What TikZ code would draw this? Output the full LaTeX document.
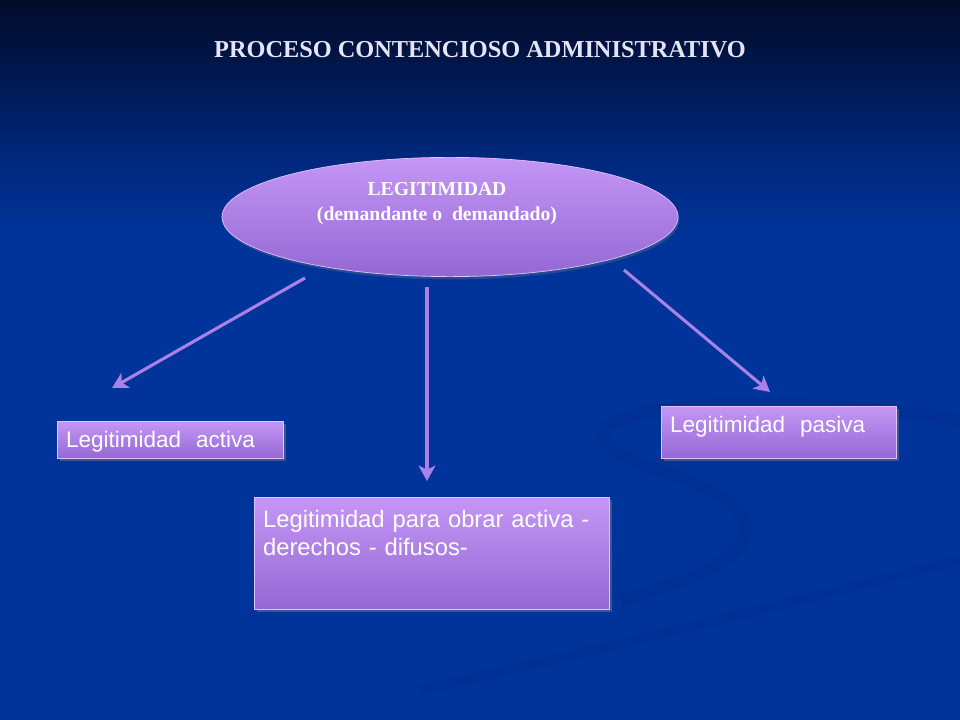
\documentclass[tikz,border=0pt]{standalone}
\usepackage{fontspec}
\setmainfont{Liberation Serif}
\newfontfamily\boxfont{Liberation Sans}
\usetikzlibrary{shapes.geometric,shadows,arrows.meta}

\definecolor{bgtop}{RGB}{2,10,40}
\definecolor{bgmid}{RGB}{0,40,125}
\definecolor{bgbot}{RGB}{0,52,155}
\definecolor{swirl}{RGB}{0,40,130}
\definecolor{boxtop}{RGB}{196,150,245}
\definecolor{boxbot}{RGB}{148,104,212}
\definecolor{boxline}{RGB}{225,195,255}
\definecolor{arrowcol}{RGB}{168,130,232}
\definecolor{titlecol}{RGB}{228,228,245}

\tikzset{
  box/.style={draw=boxline, line width=0.5pt, top color=boxtop, bottom color=boxbot,
    drop shadow={opacity=0.45, shadow xshift=2pt, shadow yshift=-2pt},
    text=white, font=\boxfont\fontsize{16}{20}\selectfont, align=left,
    anchor=north west, inner xsep=0.22cm, inner ysep=0pt},
  link/.style={draw=arrowcol, line width=2.2pt, -{Stealth[length=11pt,width=12pt,inset=3pt]}}
}

\begin{document}
\begin{tikzpicture}[x=0.025cm, y=-0.025cm]

% Background
\shade[top color=bgtop, bottom color=bgmid] (0,0) rectangle (960,160);
\fill[bgbot] (0,160) rectangle (960,720);
\shade[top color=bgmid, bottom color=bgbot] (0,159) rectangle (960,240);
\useasboundingbox (0,0) rectangle (960,720);

% Faint swirl in the lower right
\draw[swirl, line width=9pt, opacity=0.3] (960,420) .. controls (700,380) and (500,420) .. (660,470)
  .. controls (780,510) and (780,560) .. (620,600);
\draw[swirl, line width=7pt, opacity=0.25] (960,560) .. controls (800,600) and (600,650) .. (420,690);

% Title
\node[font=\bfseries\fontsize{17.3}{20}\selectfont, text=titlecol] (title) at (480,50) {PROCESO CONTENCIOSO ADMINISTRATIVO};

% Central ellipse
\node[ellipse, minimum width=11.4cm, minimum height=2.98cm, inner sep=0pt, top color=boxtop, bottom color=boxbot,
  draw=boxline, line width=0.5pt, drop shadow={opacity=0.3, shadow xshift=1pt, shadow yshift=-2pt},
  font=\bfseries\fontsize{14}{17.8}\selectfont, text=white, align=center,
  text height=1.08cm, text depth=0.92cm] (legit) at (450,217)
  {LEGITIMIDAD\kern0.65cm\\(demandante o\ \ demandado)\kern0.65cm};

% Boxes
\node[box, text width=5.2cm, text height=0.65cm, text depth=0.275cm] (activa) at (57,421) {Legitimidad\ \ activa};
\node[box, text width=5.43cm, text height=0.65cm, text depth=0.65cm] (pasiva) at (661,406) {Legitimidad\ \ pasiva};
\node[box, font=\boxfont\fontsize{16.9}{20}\selectfont, text width=8.43cm, text height=0.75cm, text depth=2.05cm] (obrar) at (254,497)
  {Legitimidad para obrar activa -\\derechos - difusos-};

% Arrow ends
\coordinate (l0) at (305,278);
\coordinate (l1) at (112,388);
\coordinate (m0) at (427,287);
\coordinate (m1) at (427,481);
\coordinate (r0) at (624,270);
\coordinate (r1) at (770,392);

% Arrows
\draw[link] (l0) -- (l1);
\draw[link] (m0) -- (m1);
\draw[link] (r0) -- (r1);

\end{tikzpicture}
\end{document}
